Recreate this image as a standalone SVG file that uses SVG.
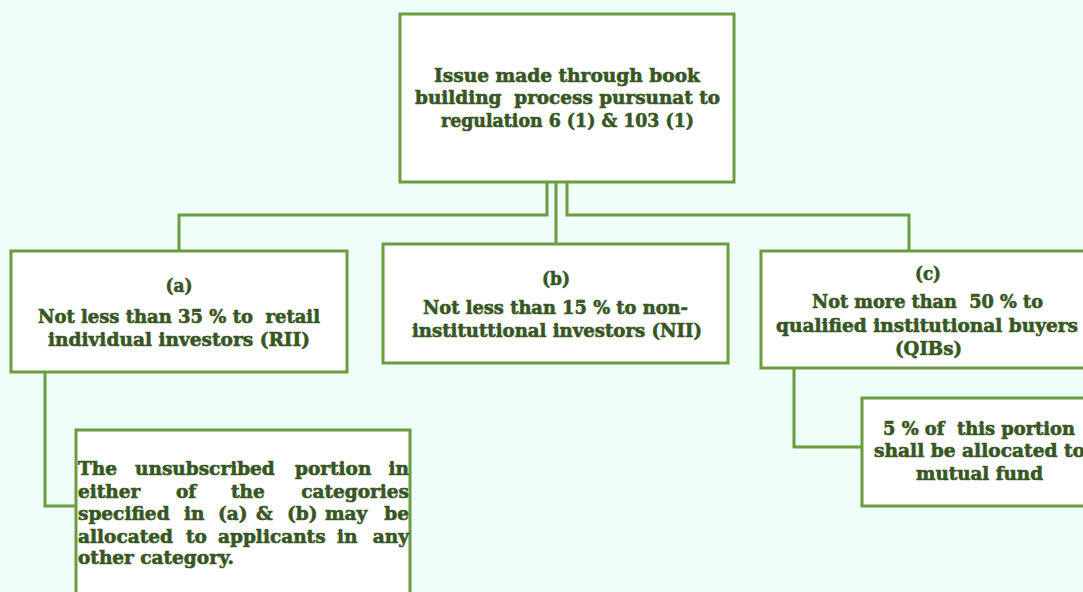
<svg xmlns="http://www.w3.org/2000/svg" width="1083" height="592" viewBox="0 0 1083 592">
  <style>
    .box { fill: #ffffff; stroke: #6b9c3f; stroke-width: 3; }
    .wire { fill: none; stroke: #6b9c3f; stroke-width: 3; }
    text { font-family: "DejaVu Serif", "Liberation Serif", serif; font-weight: bold; font-size: 18.5px; fill: #375623; stroke: #375623; stroke-width: 0.6; }
    .c { text-anchor: middle; }
    .e { text-anchor: end; }
  </style>
  <rect width="1083" height="592" fill="#effef8"/>

  <g id="connectors">
    <path class="wire" d="M547,182 V215 H179 V251"/>
    <path class="wire" d="M556,182 V244"/>
    <path class="wire" d="M567,182 V215 H909 V251"/>
    <path class="wire" d="M45,372 V506 H76"/>
    <path class="wire" d="M794,368 V447 H862"/>
  </g>

  <g id="issue">
    <rect class="box" x="400" y="14" width="334" height="168"/>
    <text class="c" x="567" y="82" textLength="266" lengthAdjust="spacingAndGlyphs">Issue made through book</text>
    <text class="c" x="567.5" y="104" textLength="305" lengthAdjust="spacingAndGlyphs" xml:space="preserve">building  process pursunat to</text>
    <text class="c" x="567.5" y="127" textLength="253" lengthAdjust="spacingAndGlyphs">regulation 6 (1) &amp; 103 (1)</text>
  </g>

  <g id="retail">
    <rect class="box" x="11" y="251" width="336" height="121"/>
    <text class="c" x="179" y="292" textLength="27" lengthAdjust="spacingAndGlyphs">(a)</text>
    <text class="c" x="179" y="323" textLength="282" lengthAdjust="spacingAndGlyphs" xml:space="preserve">Not less than 35 % to  retail</text>
    <text class="c" x="179" y="346" textLength="262" lengthAdjust="spacingAndGlyphs">individual investors (RII)</text>
  </g>

  <g id="non-institutional">
    <rect class="box" x="383" y="244" width="345" height="119"/>
    <text class="c" x="556" y="285" textLength="28" lengthAdjust="spacingAndGlyphs">(b)</text>
    <text class="c" x="555.5" y="314" textLength="265" lengthAdjust="spacingAndGlyphs">Not less than 15 % to non-</text>
    <text class="c" x="557" y="337" textLength="290" lengthAdjust="spacingAndGlyphs">instituttional investors (NII)</text>
  </g>

  <g id="qib">
    <rect class="box" x="761" y="251" width="330" height="117"/>
    <text class="c" x="928" y="280" textLength="26" lengthAdjust="spacingAndGlyphs">(c)</text>
    <text class="c" x="927.5" y="308" textLength="231" lengthAdjust="spacingAndGlyphs" xml:space="preserve">Not more than  50 % to</text>
    <text class="c" x="927" y="332" textLength="302" lengthAdjust="spacingAndGlyphs">qualified institutional buyers</text>
    <text class="c" x="928.5" y="355" textLength="67" lengthAdjust="spacingAndGlyphs">(QIBs)</text>
  </g>

  <g id="mutual-fund">
    <rect class="box" x="862" y="398" width="230" height="108"/>
    <text class="c" x="979" y="435" textLength="192" lengthAdjust="spacingAndGlyphs" xml:space="preserve">5 % of  this portion</text>
    <text class="c" x="979.5" y="457" textLength="211" lengthAdjust="spacingAndGlyphs">shall be allocated to</text>
    <text class="c" x="979.5" y="480" textLength="127" lengthAdjust="spacingAndGlyphs">mutual fund</text>
  </g>

  <g id="unsubscribed">
    <rect class="box" x="76" y="430" width="334" height="170"/>
    <text y="475"><tspan x="78">The</tspan><tspan x="135">unsubscribed</tspan><tspan x="295">portion</tspan><tspan x="409" class="e">in</tspan></text>
    <text y="498"><tspan x="78">either</tspan><tspan x="176">of</tspan><tspan x="231">the</tspan><tspan x="409" class="e">categories</tspan></text>
    <text y="520"><tspan x="78">specified</tspan><tspan x="184">in</tspan><tspan x="218">(a)</tspan><tspan x="256">&amp;</tspan><tspan x="287">(b)</tspan><tspan x="325">may</tspan><tspan x="409" class="e">be</tspan></text>
    <text y="543"><tspan x="78">allocated</tspan><tspan x="186">to</tspan><tspan x="218">applicants</tspan><tspan x="337">in</tspan><tspan x="409" class="e">any</tspan></text>
    <text y="564" x="78">other category.</text>
  </g>
</svg>
